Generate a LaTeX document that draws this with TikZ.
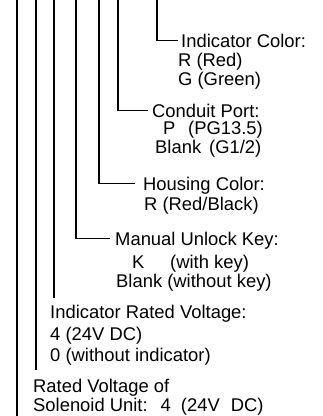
\documentclass[tikz,border=0pt]{standalone}
\usepackage{fontspec}
\setmainfont{Liberation Sans}
\begin{document}
\begin{tikzpicture}[x=1pt,y=-1pt,
  every node/.style={inner sep=0pt, anchor=base west, font=\fontsize{18.4}{22}\selectfont},
  head/.style={text height=13pt, text depth=0pt},
  conn/.style={line width=1.2pt, line cap=butt}]
\useasboundingbox (0,0) rectangle (323,416);
% labels
\node[head] (ic) at (181,47) {Indicator Color:};
\node (ic1) at (178,66) {R (Red)};
\node (ic2) at (178,85) {G (Green)};
\node[head] (cp) at (152,117) {Conduit Port:};
\node (cp1a) at (163,134) {P};
\node (cp1b) at (188,134) {(PG13.5)};
\node (cp2a) at (155,153) {Blank};
\node (cp2b) at (209,153) {(G1/2)};
\node[head] (hc) at (143,190) {Housing Color:};
\node (hc1) at (144,210) {R (Red/Black)};
\node[head] (mk) at (115,245) {Manual Unlock Key:};
\node (mk1a) at (132,268) {K};
\node (mk1b) at (170,268) {(with key)};
\node (mk2) at (116,287) {Blank (without key)};
\node (iv) at (50,318) {Indicator Rated Voltage:};
\node (iv1) at (50,340) {4 (24V DC)};
\node (iv2) at (50,361) {0 (without indicator)};
\node (rv) at (33,392) {Rated Voltage of};
\node (rv1) at (33,411) {Solenoid Unit:\hspace{13pt}4\hspace{10pt}(24V\hspace{11pt}DC)};
% top ends of connectors
\coordinate (t1) at (17,0);
\coordinate (t2) at (36,0);
\coordinate (t3) at (54,0);
\coordinate (t4) at (76,0);
\coordinate (t5) at (99,0);
\coordinate (t6) at (118,0);
\coordinate (t7) at (157,0);
\coordinate (b1) at (17,416);
\coordinate (b2) at (36,370);
\coordinate (b3) at (54,298);
% connectors
\draw[conn] (t1) -- (b1);
\draw[conn] (t2) -- (b2);
\draw[conn] (t3) -- (b3);
\draw[conn] (t4) |- ([xshift=-5pt]mk.west);
\draw[conn] (t5) |- ([xshift=-8pt]hc.west);
\draw[conn] (t6) |- ([xshift=-4pt]cp.west);
\draw[conn] (t7) |- ([xshift=-3pt]ic.west);
\end{tikzpicture}
\end{document}
